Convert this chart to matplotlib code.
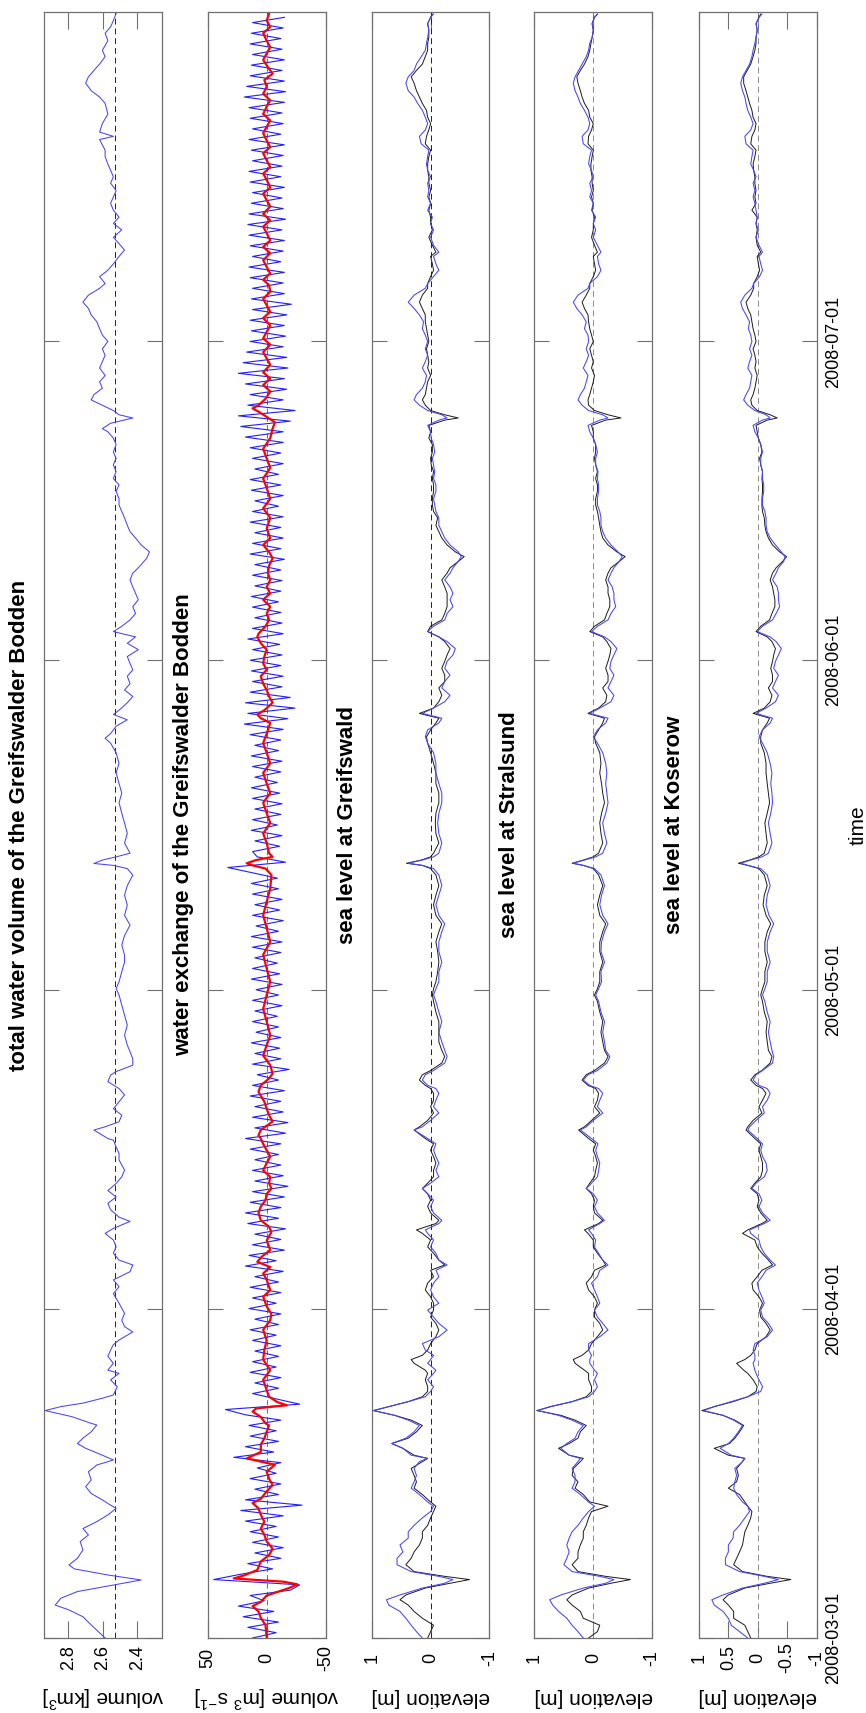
import numpy as np
import matplotlib
matplotlib.use("Agg")
from matplotlib import pyplot as plt
import matplotlib.dates as mdates

plt.rcParams['font.family'] = ['Liberation Sans', 'DejaVu Sans']
plt.rcParams['mathtext.default'] = 'regular'

# time axis: days since 2008-03-01
t_start = mdates.date2num(np.datetime64('2008-03-01'))
t_end = mdates.date2num(np.datetime64('2008-08-01'))
month_ticks = ['2008-03-01', '2008-04-01', '2008-05-01', '2008-06-01', '2008-07-01']

# ---- total water volume [km3]
vol_days = [0, 1.23, 2.0, 2.64, 3.1, 3.74, 4.37, 4.84, 5.46, 5.93, 6.5, 6.87, 7.5, 8.28, 9.07, 9.7, 10.3,
            10.95, 11.58, 12.2, 12.5, 12.99, 13.6, 14.24, 14.87, 15.65, 16.28, 16.75, 17.2, 17.85, 18.3, 18.8,
            19.4, 20.04,
            20.2, 20.83, 21.4, 21.77, 22.1, 22.56, 22.87, 23.65, 24.28, 24.9, 25.2, 25.85, 26.5, 27.1, 27.6,
            28.04, 28.8, 29.3, 29.9, 30.55, 31.5, 32.4, 33.06, 33.7, 34.47, 35.1, 35.56, 36.2, 36.82, 37.45,
            38.07, 38.54, 39.2, 39.6, 40.3, 40.9, 41.5, 42.1, 42.77, 43.4, 44.03, 44.97, 45.6, 46.2, 46.85,
            47, 47.8, 48.1, 48.58, 49.2, 49.8, 50.46, 51.1, 51.7, 52.35, 52.97, 53.3, 53.9, 54.5, 55.16, 55.79,
            56.73, 57.67, 58.6, 59.55, 60.5, 61.1, 61.75, 62.7, 63.6, 64.26, 65.2, 66.1, 67.08, 68, 68.96, 69.9,
            70.8, 71.78, 72.4, 72.7, 72.88, 73.2, 73.5,
            73.85, 74.8, 75.7, 76.7, 77.6, 78.6, 79.5, 80.4, 81.4, 82.3, 83.3, 84.2, 84.67, 85.1, 85.8, 86.4,
            86.9, 87.3, 88, 88.6, 89.2, 89.8, 90.5, 91.1, 91.7, 92.35, 93, 93.6, 94.2, 94.7, 95.2, 95.8, 96.4,
            97.05, 97.7, 98.3, 98.9, 99.56, 100.2,
            100.7, 101.6, 102.2, 102.85, 103.5, 104.1, 104.7, 105.4, 106, 106.6, 107.2, 107.9, 108.5, 109.1,
            109.75, 110.4, 111, 111.6, 112.3, 112.9, 113.5, 113.8, 114.3, 114.8, 115.1, 115.5, 116, 116.5, 117,
            117.6, 118.2, 118.8, 119.5, 120.1, 120.7, 121.3, 122, 122.6, 123.2, 123.85, 124.5, 125.1, 125.7,
            126.36, 127,
            127.45, 128.1, 128.7, 129.3, 130, 130.6, 131.2, 131.8, 132.5, 133.1, 133.7, 134.35, 135, 135.6,
            136.2, 136.9, 137.5, 138.1, 138.7, 139.4, 140, 141, 141.3, 141.7, 142.5, 143.4, 144.4, 145, 145.6,
            146.3, 146.9, 147.5, 148.1, 148.8, 149.4, 150.3, 151, 151.6, 152.2, 152.85]
volume = [2.587, 2.668, 2.716, 2.797, 2.877, 2.845, 2.748, 2.587, 2.377, 2.571, 2.765, 2.797, 2.748, 2.716,
          2.732, 2.684, 2.716, 2.635, 2.571, 2.523, 2.555, 2.603, 2.668, 2.700, 2.668, 2.684, 2.635, 2.539,
          2.603, 2.700, 2.748, 2.716, 2.668, 2.635,
          2.668, 2.781, 2.935, 2.845, 2.716, 2.603, 2.539, 2.516, 2.555, 2.506, 2.571, 2.539, 2.571, 2.555,
          2.539, 2.506, 2.426, 2.474, 2.490, 2.474, 2.506, 2.539, 2.506, 2.539, 2.442, 2.426, 2.506, 2.539,
          2.523, 2.539, 2.587, 2.539, 2.442, 2.506, 2.555, 2.571, 2.523, 2.571, 2.523, 2.490, 2.474, 2.506,
          2.506, 2.523, 2.539,
          2.571, 2.652, 2.587, 2.506, 2.490, 2.539, 2.506, 2.474, 2.506, 2.571, 2.555, 2.523, 2.426, 2.426,
          2.442, 2.458, 2.474, 2.458, 2.474, 2.490, 2.506, 2.523, 2.506, 2.490, 2.474, 2.474, 2.490, 2.474,
          2.442, 2.474, 2.458, 2.474, 2.458, 2.426, 2.458, 2.539, 2.652, 2.603, 2.523,
          2.442, 2.474, 2.458, 2.474, 2.490, 2.506, 2.490, 2.506, 2.523, 2.506, 2.523, 2.555, 2.587, 2.555,
          2.523, 2.458, 2.539, 2.506, 2.458, 2.426, 2.474, 2.442, 2.458, 2.426, 2.442, 2.458, 2.394, 2.458,
          2.410, 2.539, 2.490, 2.442, 2.410, 2.426, 2.394, 2.410, 2.426, 2.442, 2.426,
          2.394, 2.345, 2.329, 2.377, 2.410, 2.442, 2.458, 2.474, 2.490, 2.506, 2.506, 2.523, 2.506, 2.539,
          2.523, 2.539, 2.523, 2.539, 2.523, 2.539, 2.571, 2.603, 2.555, 2.426, 2.506, 2.539, 2.603, 2.668,
          2.652, 2.603, 2.619, 2.587, 2.619, 2.603, 2.587, 2.603, 2.571, 2.603, 2.619, 2.635, 2.668, 2.684,
          2.716, 2.684, 2.619,
          2.587, 2.619, 2.571, 2.539, 2.506, 2.474, 2.506, 2.539, 2.490, 2.539, 2.506, 2.539, 2.555, 2.539,
          2.523, 2.555, 2.539, 2.555, 2.571, 2.587, 2.587, 2.619, 2.539, 2.619, 2.603, 2.571, 2.587, 2.619,
          2.668, 2.700, 2.684, 2.652, 2.619, 2.587, 2.603, 2.571, 2.587, 2.555, 2.539, 2.523]
volume_mean = 2.532

# ---- water exchange [m3 s-1]: raw (half-day samples) and filtered
flow_raw = [12, -8, 16, -10, 20, -6, 24, 2, 14, -20, -28, 45, 22, -5, 16, -12, 10, -14, 12, -10,
            14, -8, 18, -14, 22, -30, 18, -10, 10, -12, 14, -8, 8, -12, 28, -6, 18, -10, 14, -8,
            15, -12, 18, 35, -28, -8, 12, -10, 10, -12, 14, -8, 12, -10, 10, -12, 12, -8, 14, -10,
            10, -12, 15, -8, 12, -12, 14, -10, 10, -14, 18, -8, 15, -15, 12, -12, 10, -16, 16, -10,
            18, -12, 14, -15, 12, -18, 10, -14, 12, -12, 10, -10, 14, -12, 18, -16, 10, -18, 12, -14,
            10, -12, 14, -15, 12, -10, 8, -19, 12, -12, 10, -11, 13, -12, 9, -10, 12, -9, 10, -13,
            12, -10, 9, -13, 13, -11, 12, -9, 10, -12, 12, -13, 13, -10, 9, -14, 12, -11, 10, -13,
            12, -10, 13, -9, 12, 33, -16, 8, 12, -11, 10, -13, 13, -9, 12, -12, 10, -13, 12, -11,
            13, -9, 10, -12, 12, -13, 13, -10, 10, -12, 14, -14, 19, -18, 16, -24, 18, -20, 14, -13,
            12, -14, 13, -12, 14, -13, 12, -11, 16, -14, 12, -13, 10, -12, 12, -10, 13, -12, 10, -13,
            12, -12, 10, -15, 14, -12, 12, -14, 10, -12, 14, -14, 12, -10, 10, -14, 13, -12, 14, -10,
            10, -14, 12, -12, 14, -14, 18, -14, 22, -20, 24, -24, 16, -14, 14, -17, 18, -15, 24, -18,
            20, -17, 17, -14, 14, -16, 13, -15, 14, -17, 12, -21, 13, -15, 12, -14, 14, -15, 15, -12,
            12, -14, 14, -15, 15, -13, 16, -16, 15, -14, 13, -13, 12, -15, 14, -12, 15, -13, 12, -14,
            13, -15, 15, -12, 12, -14, 14, -13, 15, -15, 19, -16, 17, -15, 14, -13, 13, -15, 12, -13,
            14, -12, 13, -14, 12, -15]
flow_days = np.arange(len(flow_raw)) * 0.5

filt_days = [0, 1.2, 1.9, 2.5, 3, 3.4, 4, 4.7, 5.05, 5.3, 5.6, 5.9, 6.4, 7.2, 7.8, 8.4, 9.1, 9.7, 10.3,
             10.95, 11.6, 12.2, 12.7, 13.1, 13.8, 14.4, 15, 15.65, 16.3, 16.9, 17.5, 18.2, 18.8, 19.4, 20,
             20.2, 20.8, 21.3, 21.6, 21.9, 22.2, 22.7, 23.3, 24.3, 25.2, 26.2, 27.1, 28, 29, 29.9, 30.5,
             31.2, 32.1, 32.75, 33.7, 34.3, 34.9, 35.4, 35.9, 36.5, 37.4, 38.2, 38.7, 39.3, 40, 40.6, 41.2,
             41.8, 42.3, 42.8, 43.4, 44, 44.7, 45.3, 45.9, 46.5,
             47, 47.3, 47.8, 48.6, 49.2, 49.8, 50.46, 51.4, 52, 52.65, 53.1, 53.9, 54.8, 55.8, 56.7, 58,
             59.2, 60.5, 61.75, 63, 64.3, 65.5, 66.8, 68, 69.3, 70.5, 71.8, 72.4, 72.7, 72.9, 73.2, 73.5,
             73.85, 74.8, 75.7, 76.7, 77.6, 78.6, 79.5, 80.4, 81.4, 82.3, 83.3, 84.2, 85.1, 86.1, 86.55,
             86.9, 87.3, 88, 88.6, 89.2, 89.8, 90.5, 91.1, 91.7, 92.35, 93, 93.6, 94.2, 94.5, 95.2, 95.8,
             96.4, 97.05, 97.7, 98.3, 98.9, 99.56, 100.2,
             100.9, 101.6, 102.2, 102.85, 103.5, 104.4, 105.4, 106.3, 107.2, 108.2, 109.1, 110.1, 111,
             111.9, 112.9, 113.8, 114.4, 114.9, 115.4, 115.7, 116, 116.6, 117.3, 117.9, 118.5, 119.1, 119.8,
             120.4, 121, 121.7, 122.3, 122.9, 123.5, 124.2, 124.8, 125.4, 126, 126.7,
             127.3, 127.8, 128.4, 129, 129.65, 130.3, 130.9, 131.5, 132.2, 132.8, 133.4, 134, 134.7, 135.3,
             135.9, 136.5, 137.2, 137.8, 138.4, 139.05, 139.7, 140.3, 140.9, 141.6, 142.2, 142.8, 143.4,
             144.1, 144.7, 145.3, 145.95, 146.6, 147.2, 147.8, 148.5, 149.1, 149.7, 150.3, 151, 151.6,
             152.2, 152.85]
flow_filt = [0, 1, 5, 7, 12, 5, 0, -19, -26, -14, 28, 19, 8, 5, -2, -5, 0, 2, 5, 2, 5, 7, 12, 5, 0,
             -5, -2, 0, -7, 17, 5, 5, 2, 0, -2,
             1, 5, 12, 9, -17, -9, -2, 0, 3, -3, 3, 2, 0, 3, -3, -4, 0, 3, -3, 0, 3, -3, 8, 4, -3, 0,
             -4, -2, 5, 7, 5, 1, 0, -4, -2, -3, 3, 0, -3, 0, 3,
             5, 7, 5, -5, -2, 0, 2, 7, 5, -2, -5, -3, 3, 0, -3, 0, 3, 0, -3, 0, 3, -3, 0, 3, 0, -3, -4,
             1, 12, 17, 9, -5,
             -2, 0, 3, -3, 0, 3, -3, 0, 3, -3, 0, 3, 0, -3, 5, 8, 2, -5, -2, 0, 3, 5, 0, 3, 2, 0, 5, 8,
             7, 1, -2, 0, -3, 3, -3, 0, -3, -1,
             -2, -5, -2, 3, -3, 0, -3, 3, -3, 0, 3, -3, 0, 3, -3, -5, -7, 0, 7, 12, 7, 1, -3, 3, -3, 3,
             -3, 0, 3, -3, 3, 0, -3, 3, -3, 0, 3, -3,
             -2, 3, -3, 0, 3, -3, 3, -3, 0, 3, -3, 3, -3, 0, 3, -3, 0, 3, -3, 0, 3, -3, 0, 3, 0, -3, 3,
             0, -3, 3, 0, 2, -5, -1, 3, 0, -3, 0, 3, -3, 0, -2]

# ---- sea level [cm]: observed (blue) and modelled (black), shared sample days
sl_days = [0, 0.6, 1.2, 1.86, 2.5, 3.1, 3.6, 4.05, 4.7, 5.15, 5.5, 5.8, 6.25, 6.9, 7.5, 8.1, 8.75, 9.4,
           10, 10.6, 11.3, 11.9, 12.4, 12.8, 13.5, 14.1, 14.7, 15.3, 15.95, 16.6, 16.9, 17.2, 17.85, 18.3,
           18.8, 19.4, 20,
           20.5, 20.95, 21.4, 21.77, 22.24, 22.7, 23.2, 23.65, 24.3, 24.9, 25.2, 25.85, 26.2, 26.6, 27.1,
           27.7, 28.35, 28.98, 29.6, 30.2, 30.86, 31.5, 32.1, 32.75, 33.4, 34, 34.6, 35.1, 35.56, 36.2, 36.8,
           37.45, 38.07, 38.4, 39, 39.3, 40, 40.6, 41.2, 41.8, 42.3, 42.8, 43.4, 44, 44.7, 45.3, 45.9, 46.5,
           47, 47.8, 48.1, 48.7, 49.4, 50, 50.6, 51.25, 51.7, 52, 52.5, 53, 53.4, 54.1, 54.7, 55.3, 56.1, 57,
           58, 58.9, 59.9, 60.5, 61.1, 61.75, 62.7, 63.6, 64.6, 65.5, 66.45, 67.2, 68, 69, 69.9, 70.8, 71.8,
           72.4, 72.7, 72.9, 73.2, 73.5,
           73.85, 74.8, 75.7, 76.7, 77.6, 78.6, 79.5, 80.4, 81.4, 82.3, 83.3, 84.2, 84.8, 85.45, 86.1, 86.55,
           87, 87.5, 88.1, 88.7, 89.4, 90, 90.6, 91.25, 91.9, 92.5, 93.1, 93.76, 94.2, 94.7, 95.2, 95.8,
           96.4, 97.05, 97.7, 98.3, 98.9, 99.56, 100.2,
           100.7, 101.3, 101.75, 102.2, 102.85, 103.5, 104.1, 104.7, 105.4, 106, 106.6, 107.2, 107.9, 108.5,
           109.1, 109.75, 110.4, 111, 111.6, 112.3, 112.9, 113.5, 114.1, 114.6, 114.8, 115.1, 115.5, 116,
           116.5, 117, 117.6, 118.2, 118.8, 119.5, 120.1, 120.7, 121.3, 122, 122.6, 123.2, 123.85, 124.5,
           125.1, 125.7, 126.36, 127,
           127.45, 128.1, 128.7, 129.3, 130, 130.4, 131.05, 131.8, 132.5, 133.1, 133.7, 134.35, 135, 135.6,
           136.2, 136.9, 137.5, 138.1, 138.7, 139.4, 140, 140.6, 141.3, 141.9, 142.5, 143.1, 143.75, 144.4,
           145, 145.6, 146.3, 146.9, 147.5, 148.1, 148.8, 149.4, 150.05, 150.6, 151.3, 151.9, 152.5, 152.8]

greifswald_obs = [14, 24, 33, 42, 52, 71, 75, 52, 14, -24, -38, -14, 33, 57, 57, 47, 52, 38, 38, 28, 14, 0,
                  -5, 5, 19, 33, 28, 24, 28, 19, 5, 33, 47, 66, 42, 28, 19,
                  38, 61, 97, 71, 38, 9, 0, -5, 5, -5, -9, 5, 0, -5, 9, 14, -14, -28, -14, -5, 5, -14, -5,
                  0, -5, -14, -9, -28, -14, -9, 0, -5, 5, 9, -14, -19, -5, 0, -5, 5, 14, 0, -14, -9, -14,
                  -9, -5, -9,
                  5, 28, 14, 0, -14, -5, -9, -14, -9, 5, 14, 9, -5, -24, -28, -24, -19, -14, -19, -14, -9,
                  -5, -9, -14, -14, -19, -14, -14, -19, -24, -14, -9, -14, -19, -14, -5, 14, 38, 14, -5,
                  -14, -19, -14, -12, -14, -19, -19, -14, -9, -9, -5, 5, 9, 5, -14, -19, 14, -5, -24, -33,
                  -19, -24, -33, -24, -28, -38, -42, -28, -14, 5, -5, -24, -28, -38, -33, -38, -33, -24, -33,
                  -38, -47, -52, -47, -33, -24, -19, -14, -14, -9, -7, -5, -9, -9, -5, -7, -5, -3, -7, -5,
                  -1, 0, 5, -14, -28, -19, 5, 19, 28, 24, 14, 9, 7, 14, 9, 5, 9, 5, 9, 14, 12, 19, 28, 38,
                  28, 9,
                  5, -5, -14, -9, -5, -14, -5, 0, -5, 0, -3, 5, 0, 5, 3, 5, 0, 5, 7, 5, 3, 16, 19, 9, 5, 9,
                  14, 22, 28, 38, 42, 38, 28, 24, 16, 9, 7, 5, 3, 5, 0, -5]
greifswald_mod = [5, 0, -5, 14, 28, 38, 52, 42, 9, -33, -66, -24, 28, 42, 33, 28, 19, 14, 14, 5, 0, -5,
                  -9, 0, 14, 28, 24, 28, 33, 14, 5, 28, 47, 66, 38, 24, 14,
                  33, 61, 97, 71, 38, 14, 5, 5, 9, 5, 9, 28, 33, 14, 5, 0, -9, -14, -9, 0, -5, -5, 0, 9, 5,
                  -5, 0, -24, -14, -5, 5, 0, 14, 24, -9, -14, 0, 5, 0, 5, 14, 5, -5, -5, -9, -5, 0, -5,
                  9, 28, 19, 5, -5, 0, -5, -5, 0, 9, 19, 14, 0, -19, -24, -19, -14, -14, -14, -9, -5, -3,
                  -5, -9, -12, -14, -12, -9, -14, -19, -9, -5, -9, -14, -9, 0, 14, 41, 16, 0,
                  -5, -14, -9, -8, -9, -14, -14, -9, -9, -5, 0, 5, 7, 0, -9, -14, 19, -5, -14, -19, -14,
                  -24, -24, -19, -24, -28, -33, -24, -14, 5, 0, -19, -24, -28, -28, -28, -24, -19, -28,
                  -33, -47, -57, -42, -28, -19, -14, -9, -12, -5, -3, -3, -5, -5, -3, -5, -1, 0, -3, -3, 3,
                  0, 3, -24, -47, -24, 0, 9, 14, 9, 7, 5, 0, 5, 3, 5, 7, 3, 5, 7, 9, 9, 14, 19, 14, 5,
                  5, 0, -5, -3, 0, -9, -3, 3, -3, 0, 0, 3, 0, 3, 0, 3, 3, 5, 5, 3, 0, 9, 7, 3, 0, 5, 7, 14,
                  19, 24, 28, 33, 24, 14, 9, 5, 5, 3, 3, 5, 0, -3]

stralsund_obs = [17, 26, 36, 45, 59, 69, 74, 55, 17, -21, -35, -11, 36, 50, 45, 41, 45, 41, 36, 26, 17, 8,
                 -2, 8, 22, 36, 31, 31, 36, 26, 22, 41, 55, 45, 31, 26, 17,
                 36, 59, 94, 74, 36, 8, -2, -7, -2, -7, -2, 6, 6, 3, 8, 8, -11, -25, -16, -7, -2, -11, -7,
                 -2, 3, -7, -11, -25, -16, -9, -2, -4, 3, 8, -11, -19, -7, -2, -7, 0, 12, 3, -7, -9, -11,
                 -7, -4, -8,
                 3, 22, 12, 0, -16, -7, -11, -16, -9, 6, 17, 9, -7, -23, -28, -21, -19, -16, -19, -13, -9,
                 -4, -9, -14, -13, -19, -13, -14, -19, -25, -16, -11, -14, -19, -13, -2, 17, 34, 15, -4,
                 -16, -23, -19, -16, -21, -25, -23, -21, -23, -21, -16, -7, 0, -7, -21, -25, 6, -11, -30,
                 -35, -25, -30, -35, -28, -30, -35, -40, -30, -19, 3, -7, -25, -30, -38, -35, -35, -32,
                 -25, -30,
                 -35, -44, -49, -42, -30, -21, -16, -13, -13, -11, -7, -7, -9, -9, -7, -8, -4, -4, -7, -4,
                 0, 6, 9, -11, -25, -16, 8, 19, 26, 22, 15, 12, 9, 17, 12, 8, 12, 8, 9, 15, 12, 19, 28, 34,
                 26, 9,
                 6, -7, -13, -9, -7, -13, -7, 0, -4, 0, -4, 3, 0, 6, 3, 6, 0, 3, 8, 6, 3, 17, 19, 9, 6, 9,
                 15, 22, 26, 31, 34, 31, 25, 19, 12, 8, 6, 2, 0, 2, -2, -7]
stralsund_mod = [8, -7, -11, 17, 22, 36, 45, 36, 8, -30, -63, -21, 26, 36, 26, 26, 22, 17, 17, 12, 8, 3,
                 -25, 6, 17, 31, 26, 36, 34, 22, 17, 41, 59, 41, 26, 22, 12,
                 31, 55, 96, 72, 36, 12, 3, 3, 8, 8, 15, 31, 34, 19, 8, 3, -7, -16, -11, -2, -2, -7, -2, 8,
                 12, 3, -2, -21, -16, -7, 0, 0, 9, 15, -9, -16, -2, 0, -2, 3, 12, 6, -2, -4, -7, -4, 0, -4,
                 8, 25, 15, 3, -11, -2, -7, -9, -4, 9, 19, 12, -2, -19, -25, -19, -16, -13, -16, -11, -7,
                 -2, -7, -11, -11, -16, -11, -11, -16, -21, -11, -7, -11, -16, -9, 0, 17, 36, 17, 0,
                 -9, -16, -13, -11, -14, -19, -16, -14, -11, -13, -11, -4, -2, -9, -16, -19, 9, -9, -21,
                 -23, -16, -25, -25, -21, -25, -28, -30, -23, -16, 6, -2, -19, -23, -28, -28, -25, -25,
                 -21, -25,
                 -30, -44, -54, -40, -25, -16, -13, -11, -9, -7, -4, -4, -7, -7, -4, -7, -4, -2, -4, -4, 0,
                 0, 3, -21, -47, -25, -2, 8, 9, 6, 3, 0, -2, 3, 0, 3, 6, 0, 3, 6, 8, 9, 15, 19, 12, 6,
                 6, 0, -4, -2, 0, -7, -2, 3, 0, 0, -2, 2, 0, 3, 0, 2, 2, 4, 4, 2, 0, 9, 8, 3, 0, 6, 8, 15,
                 19, 22, 26, 28, 22, 15, 9, 6, 4, 2, 0, 2, -2, -7]

koserow_obs = [17, 31, 45, 50, 59, 74, 78, 59, 26, -11, -35, -11, 31, 55, 55, 50, 50, 42, 41, 31, 22, 14,
               17, 26, 36, 41, 39, 36, 39, 26, 22, 45, 64, 50, 41, 33, 26,
               41, 59, 92, 74, 45, 17, -5, -8, -2, 3, 5, 8, 5, 5, 8, 5, -16, -25, -18, -8, -5, -11, -7, -2,
               1, -7, -14, -30, -21, -11, -5, -2, 12, 14, -11, -21, -8, -2, -7, -2, 10, 3, -11, -16, -14,
               -8, -5, -8,
               1, 17, 14, 3, -11, -8, -16, -21, -16, -2, 8, 3, -8, -25, -27, -24, -21, -18, -21, -16, -12,
               -8, -12, -16, -16, -21, -16, -16, -21, -27, -19, -14, -16, -21, -16, -5, 17, 29, 12, -7,
               -18, -24, -21, -18, -22, -25, -24, -22, -24, -21, -16, -8, -2, -8, -21, -25, 3, -14, -30,
               -35, -25, -30, -35, -27, -30, -35, -40, -31, -21, 1, -8, -25, -31, -37, -35, -35, -33, -25,
               -31,
               -35, -44, -46, -40, -30, -21, -16, -14, -14, -12, -8, -8, -10, -10, -8, -8, -5, -5, -8, -5,
               -1, 5, 8, -8, -21, -14, 5, 17, 24, 20, 14, 12, 10, 17, 14, 10, 14, 10, 12, 16, 14, 20, 26,
               29, 22, 10,
               7, -3, -8, -5, -2, -8, -2, 3, -1, 3, 1, 3, 5, 8, 5, 8, 3, 7, 12, 10, 8, 20, 22, 12, 8, 12,
               17, 20, 22, 26, 29, 26, 20, 14, 10, 8, 5, 3, 1, 3, -2, -7]
koserow_mod = [12, 17, 22, 41, 41, 50, 59, 50, 22, -21, -56, -16, 26, 41, 36, 31, 26, 24, 22, 17, 12, 10,
               17, 22, 31, 50, 36, 33, 36, 26, 22, 50, 74, 48, 39, 31, 24,
               39, 59, 95, 74, 42, 17, 3, 1, 8, 17, 24, 36, 22, 12, 5, 1, -14, -21, -14, -5, -3, -8, -2, 8,
               10, 1, -7, -25, -18, -7, 1, 5, 26, 17, -7, -16, -5, 1, -2, 1, 12, 5, -5, -8, -8, -5, -2, -5,
               5, 20, 17, 8, -7, -2, -8, -14, -8, 3, 12, 5, -7, -21, -24, -18, -16, -14, -16, -11, -8, -5,
               -8, -12, -12, -16, -12, -12, -16, -22, -14, -9, -11, -16, -11, -2, 17, 33, 14, -2,
               -11, -16, -14, -12, -16, -20, -18, -16, -14, -14, -11, -5, -5, -8, -16, -20, 8, -11, -21,
               -24, -18, -25, -25, -22, -25, -27, -30, -24, -16, 3, -5, -20, -24, -29, -29, -27, -25, -21,
               -25,
               -31, -42, -49, -37, -25, -18, -14, -12, -11, -8, -7, -7, -8, -8, -7, -8, -5, -3, -7, -5, -1,
               1, 3, -16, -33, -21, 1, 10, 12, 8, 5, 3, 1, 5, 3, 5, 8, 3, 5, 8, 10, 12, 17, 20, 12, 7,
               7, 1, -3, -1, 1, -5, 1, 3, 1, 3, 1, 10, 3, 5, 3, 5, 5, 7, 8, 5, 3, 12, 10, 5, 3, 8, 10, 14,
               17, 20, 24, 24, 18, 12, 8, 5, 3, 3, 1, 3, -2, -5]

titles = ['total water volume of the Greifswalder Bodden',
          'water exchange of the Greifswalder Bodden',
          'sea level at Greifswald', 'sea level at Stralsund', 'sea level at Koserow']
ylabels = ['volume [km$^3$]', 'volume [m$^3$ s$^{-1}$]', 'elevation [m]', 'elevation [m]', 'elevation [m]']

# ---- layout in pixels of the 866 x 1713 canvas
W, H = 866.0, 1713.0
lefts = [44.4, 207.8, 371.7, 534.4, 698.9]
aw, top, bottom = 117.8, 12.0, 1638.0
ah = bottom - top

fig = plt.figure(figsize=(8.66, 17.13), dpi=100)
axes = [fig.add_axes([l / W, 1 - bottom / H, aw / W, ah / H]) for l in lefts]

def days(d):
    return t_start + np.asarray(d, dtype=float)

frame = '#707070'

def setup(ax, lim, ticks, labels, title, ylabel):
    ax.set_xlim(lim)
    ax.set_ylim(t_start, t_end)
    ax.set_xticks(ticks)
    ax.set_xticklabels(labels, rotation=90, va='center', ha='center')
    ax.tick_params(axis='x', direction='in', length=12, width=0.8, color=frame,
                   top=True, bottom=True, labelsize=13, pad=14.4)
    ax.set_yticks([mdates.date2num(np.datetime64(m)) for m in month_ticks])
    ax.tick_params(axis='y', direction='in', length=11, width=0.8, color=frame,
                   left=True, right=True, labelleft=False, labelright=False)
    for s in ax.spines.values():
        s.set_color(frame)
        s.set_linewidth(0.9)
    ax.text(-24.5 / aw, 0.5, title, rotation=90, ha='center', va='center',
            fontsize=16, fontweight='bold', transform=ax.transAxes)
    ax.text(0.5, -59.0 / ah, ylabel, rotation=180, ha='center', va='center',
            fontsize=15, transform=ax.transAxes)

blue = '#4545ff'

# volume
ax = axes[0]
ax.axvline(volume_mean, color='#222222', lw=0.7, dashes=(6, 4))
ax.plot(volume, days(vol_days), color=blue, lw=0.75)
setup(ax, (2.94, 2.255), [2.8, 2.6, 2.4], ['2.8', '2.6', '2.4'], titles[0], ylabels[0])

# exchange
ax = axes[1]
ax.axvline(0, color='#555555', lw=0.6, dashes=(6, 4))
ax.plot(flow_raw, days(flow_days), color='#1f1fff', lw=0.8)
ax.plot(flow_filt, days(filt_days), color='#ff0000', lw=1.6)
setup(ax, (50, -50), [50, 0, -50], ['50', '0', '-50'], titles[1], ylabels[1])

# sea levels
for ax, obs, mod, title, dash in zip(axes[2:], [greifswald_obs, stralsund_obs, koserow_obs],
                                     [greifswald_mod, stralsund_mod, koserow_mod],
                                     titles[2:], ['#222222', '#8a8a8a', '#8a8a8a']):
    ax.axvline(0, color=dash, lw=0.7, dashes=(6, 4))
    ax.plot(np.array(mod) / 100.0, days(sl_days), color='#1a1a1a', lw=0.7)
    ax.plot(np.array(obs) / 100.0, days(sl_days), color=blue, lw=0.75)
    if ax is axes[4]:
        setup(ax, (1, -1), [1, 0.5, 0, -0.5, -1], ['1', '0.5', '0', '-0.5', '-1'], title, 'elevation [m]')
    else:
        setup(ax, (1, -1), [1, 0, -1], ['1', '0', '-1'], title, 'elevation [m]')

# dates along the right-hand side of the last panel
ax = axes[4]
ax.set_yticklabels(month_ticks, rotation=90, ha='center', va='center')
ax.tick_params(axis='y', labelright=True, labelsize=13, pad=12.2)

fig.text(858 / W, 1 - 825 / H, 'time', rotation=90, ha='center', va='center', fontsize=15)

fig.savefig('out.png', dpi=100)
